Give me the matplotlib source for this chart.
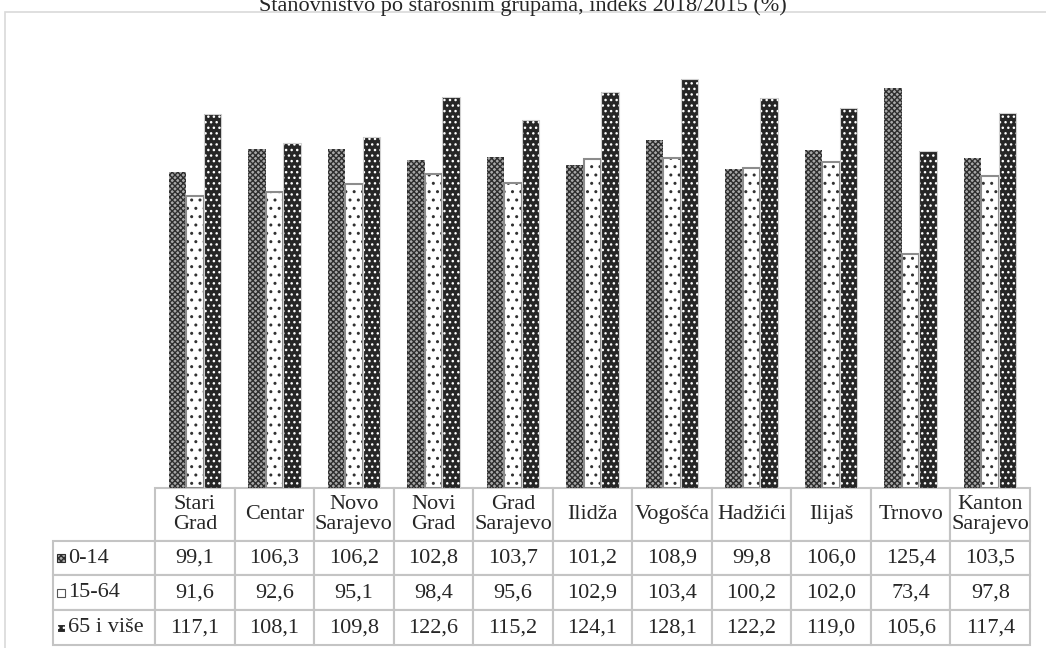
import matplotlib.pyplot as plt
import numpy as np
from matplotlib.patches import Rectangle

plt.rcParams['font.family'] = ['Liberation Serif', 'DejaVu Serif']
plt.rcParams['hatch.linewidth'] = 1.0

# podaci
opcine = ['Stari\nGrad', 'Centar', 'Novo\nSarajevo', 'Novi\nGrad', 'Grad\nSarajevo',
          'Ilidža', 'Vogošća', 'Hadžići', 'Ilijaš', 'Trnovo', 'Kanton\nSarajevo']
grupe = ['0-14', '15-64', '65 i više']
v_0_14 = [99.1, 106.3, 106.2, 102.8, 103.7, 101.2, 108.9, 99.8, 106.0, 125.4, 103.5]
v_15_64 = [91.6, 92.6, 95.1, 98.4, 95.6, 102.9, 103.4, 100.2, 102.0, 73.4, 97.8]
v_65 = [117.1, 108.1, 109.8, 122.6, 115.2, 124.1, 128.1, 122.2, 119.0, 105.6, 117.4]

W, H = 1046, 648
fig = plt.figure(figsize=(W / 100, H / 100), dpi=100)
ax = fig.add_axes([155 / W, (H - 488) / H, 875 / W, 447 / H])

x = np.arange(len(opcine))
bw = 0.22
stil = [
    dict(color='#a8a8a8', edgecolor='#2e2e2e', hatch='xxxxxx', lw=0),
    dict(color='white', edgecolor='#303030', hatch='..', lw=0),
    dict(color='#262626', edgecolor='white', hatch='...', lw=0),
]
ax.bar(x - bw, v_0_14, bw, **stil[0])
ax.bar(x, v_15_64, bw, **stil[1])
ax.bar(x, v_15_64, bw, fill=False, edgecolor='#8c8c8c', lw=1.5)
ax.bar(x + bw, v_65, bw, **stil[2])
ax.bar(x + bw, v_65, bw, fill=False, edgecolor='#d0d0d0', lw=0.8)

ax.set_xlim(-0.5, len(opcine) - 0.5)
ax.set_ylim(0, 140)
ax.set_xticks([])
ax.set_yticks([])
for s in ax.spines.values():
    s.set_visible(False)

# tabela (bbox vrijedi samo za celije s podacima, oznake redova su lijevo od nje)
fmt = lambda v: f'{v:.1f}'.replace('.', ',')
celije = [[fmt(v) for v in red] for red in (v_0_14, v_15_64, v_65)]
tb_h = (645 - 488) / 447
tbl = ax.table(cellText=celije, rowLabels=grupe, colLabels=opcine,
               cellLoc='center', rowLoc='left', colLoc='center',
               bbox=[0, -tb_h, 1, tb_h])
tbl.auto_set_font_size(False)
tbl.set_fontsize(16)
tbl._autoColumns = []
cw = 1 / len(opcine)
for (r, c), cell in tbl.get_celld().items():
    cell.set_edgecolor('#c4c4c4')
    cell.set_linewidth(1.5)
    cell.get_text().set_color('#262626')
    if r == 0:
        cell.set_height(cell.get_height() * 53 / 35)
        cell.get_text().set_linespacing(1.05)
    if c == -1:
        cell.set_width(cw * 102 / 79.5)
        cell.PAD = 0.15

# legend kljucevi
for i, st in enumerate(stil):
    yc = 557.5 + 35 * i
    kw = dict(st)
    kw['facecolor'] = kw.pop('color')
    kw['lw'] = 0.8
    if i == 1:
        kw['hatch'] = '.'
        kw['edgecolor'] = '#555555'
    fig.add_artist(Rectangle((57 / W, (H - yc - 4) / H), 8 / W, 8 / H,
                             transform=fig.transFigure, **kw))

# okvir i naslov
fig.add_artist(Rectangle((5 / W, -0.05), 1.1, (H - 12) / H + 0.05,
                         transform=fig.transFigure, fill=False,
                         edgecolor='#d9d9d9', lw=1.2))
fig.text(523 / W, 1 - 11 / H, 'Stanovništvo po starosnim grupama, indeks 2018/2015 (%)',
         ha='center', va='baseline', fontsize=16, color='#262626')

fig.savefig('out.png', dpi=100)
